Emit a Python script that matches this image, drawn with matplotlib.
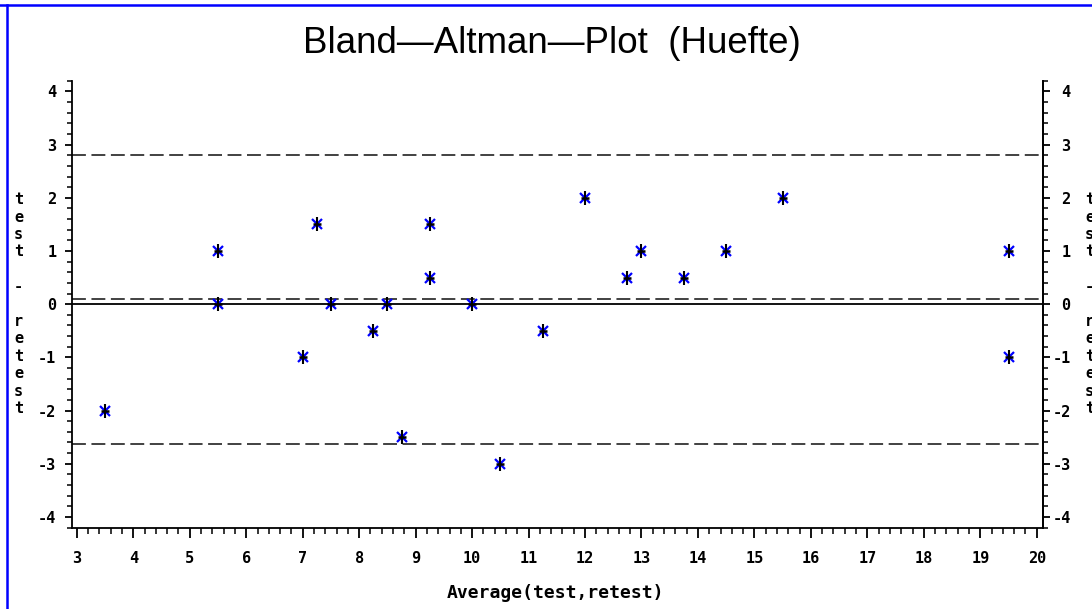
import numpy as np
import matplotlib.pyplot as plt
from matplotlib.lines import Line2D
from matplotlib.ticker import MultipleLocator

plt.rcParams['axes.unicode_minus'] = False
plt.rcParams['lines.scale_dashes'] = False

# Huefte: average and difference of test / retest
avg = [3.5, 5.5, 5.5, 7.0, 7.25, 7.5, 8.25, 8.5, 8.75, 9.25, 9.25,
       10.0, 10.5, 11.25, 12.0, 12.75, 13.0, 13.75, 14.5, 15.5, 19.5, 19.5]
diff = [-2.0, 1.0, 0.0, -1.0, 1.5, 0.0, -0.5, 0.0, -2.5, 1.5, 0.5,
        0.0, -3.0, -0.5, 2.0, 0.5, 1.0, 0.5, 1.0, 2.0, 1.0, -1.0]

x_ticks = list(range(3, 21))
y_ticks = list(range(-4, 5))

# mean difference and limits of agreement (mean +/- 2 SD)
d = np.array(diff)
mean_d = d.mean()
sd_d = d.std(ddof=1)
limits = [mean_d - 2 * sd_d, mean_d, mean_d + 2 * sd_d]

mono = 'DejaVu Sans Mono'

fig = plt.figure(figsize=(10.92, 6.09), dpi=100)
ax = fig.add_axes([0.0657, 0.1337, 0.8894, 0.7336])

ax.axhline(0, color='black', lw=1.3)
for lim in limits:
    ax.axhline(lim, color='#333333', lw=1.3, dashes=(10, 4))

# SAS style star: black cross with blue diagonals
ax.plot(avg, diff, ls='none', marker='x', ms=7, mew=1.6, color='blue')
ax.plot(avg, diff, ls='none', marker='|', ms=10, mew=1.5, color='black')
ax.plot(avg, diff, ls='none', marker='_', ms=6, mew=1.8, color='black')

ax.set_xlim(2.91, 20.11)
ax.set_ylim(-4.2, 4.2)

ax.spines['top'].set_visible(False)
for s in ['left', 'right', 'bottom']:
    ax.spines[s].set_linewidth(1.3)

ax.set_xticks(x_ticks)
ax.set_yticks(y_ticks)
ax.xaxis.set_minor_locator(MultipleLocator(0.2))
ax.yaxis.set_minor_locator(MultipleLocator(0.2))

ax.tick_params(axis='x', which='major', direction='out', length=7, width=1.3, pad=10)
ax.tick_params(axis='x', which='minor', direction='out', length=4, width=1.1)
ax.tick_params(axis='y', which='major', direction='out', length=5, width=1.3, pad=6,
               left=True, right=False)
ax.tick_params(axis='y', which='minor', direction='out', length=3.5, width=1.1,
               left=True, right=False)

for lab in ax.get_xticklabels() + ax.get_yticklabels():
    lab.set_fontfamily(mono)
    lab.set_fontweight('bold')
    lab.set_fontsize(11)

# right hand axis with the same scale, labels right aligned
ax2 = ax.twinx()
ax2.set_ylim(ax.get_ylim())
ax2.set_yticks(y_ticks)
ax2.yaxis.set_minor_locator(MultipleLocator(0.2))
for s in ['left', 'top', 'bottom']:
    ax2.spines[s].set_visible(False)
ax2.spines['right'].set_linewidth(1.3)
ax2.tick_params(axis='y', which='major', direction='out', length=5, width=1.3, pad=15)
ax2.tick_params(axis='y', which='minor', direction='out', length=3.5, width=1.1)
for lab in ax2.get_yticklabels():
    lab.set_fontfamily(mono)
    lab.set_fontweight('bold')
    lab.set_fontsize(11)
    lab.set_horizontalalignment('right')

# titles and labels
fig.text(0.5055, 0.929, 'Bland\u2014Altman\u2014Plot  (Huefte)', ha='center', va='center',
         fontsize=26.5, family='Liberation Sans')
fig.text(555 / 1092, 1 - 593 / 609, 'Average(test,retest)', ha='center', va='center',
         fontsize=13, family=mono, fontweight='bold')

ylab = '\n'.join('test - retest')
fig.text(18.5 / 1092, 1 - 304 / 609, ylab, ha='center', va='center', fontsize=11,
         family=mono, fontweight='bold', linespacing=1.2)
fig.text(1085 / 1092, 1 - 304 / 609, ylab, ha='left', va='center', fontsize=11,
         family=mono, fontweight='bold', linespacing=1.2)

# blue frame along top and left edge
fig.add_artist(Line2D([0, 1], [1 - 5 / 609, 1 - 5 / 609], color='blue', lw=1.8,
                      transform=fig.transFigure))
fig.add_artist(Line2D([7 / 1092, 7 / 1092], [0, 1 - 5 / 609], color='blue', lw=1.8,
                      transform=fig.transFigure))

fig.savefig('out.png', dpi=100)
